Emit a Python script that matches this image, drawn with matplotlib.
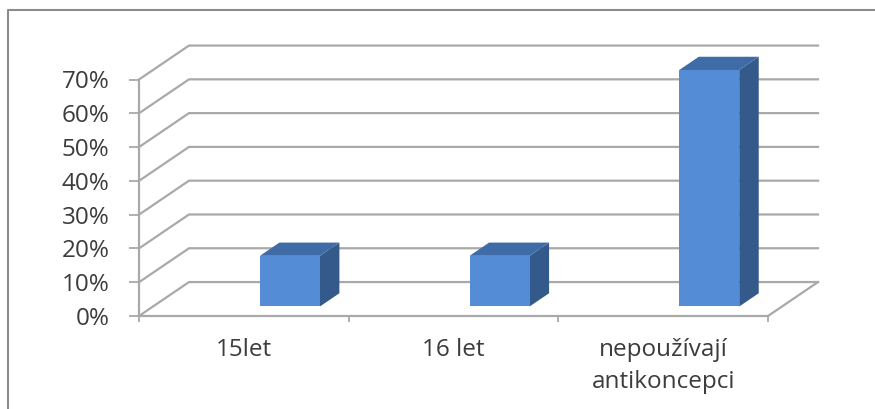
import matplotlib.pyplot as plt
from matplotlib.lines import Line2D
from matplotlib.patches import Polygon

plt.rcParams["font.family"] = ["Open Sans", "DejaVu Sans"]

# --------------------------------------------------------------
# Data
# --------------------------------------------------------------
categories = ["15let", "16 let", "nepoužívají\nantikoncepci"]
values = [15, 15, 70]
y_ticks = [0, 10, 20, 30, 40, 50, 60, 70]

# --------------------------------------------------------------
# Fake 3D settings, depth 1 = back wall
# --------------------------------------------------------------
W, H = 875, 409
depth_x = 0.2385   # category units per unit of depth
depth_y = 10.05    # percent per unit of depth
bar_width = 0.286
bar_shift = 0.153
bar_front = 0.28
bar_back = 0.67
grid_col = "#a9a9a9"
text_col = "#3c3c3c"


def pt(x, y, d=0.0):
    return (x + d * depth_x, y + d * depth_y)


fig = plt.figure(figsize=(W / 100, H / 100), dpi=100, facecolor="white")
ax = fig.add_axes([139 / W, (H - 316) / H, 629 / W, 236.5 / H])
ax.set_xlim(0, 3)
ax.set_ylim(0, 70)
ax.patch.set_visible(False)

# --------------------------------------------------------------
# Outer frame
# --------------------------------------------------------------
fig.add_artist(Line2D([8 / W, 8 / W, 1], [0, 1 - 10 / H, 1 - 10 / H],
                      color="#8c8c8c", lw=1.5, transform=fig.transFigure))

# --------------------------------------------------------------
# Walls and grid
# --------------------------------------------------------------
for t in y_ticks:
    xs, ys = zip(pt(0, t), pt(0, t, 1), pt(3, t, 1))
    ax.plot(xs, ys, color=grid_col, lw=1.6, clip_on=False, zorder=1)

# floor edge on the right
xs, ys = zip(pt(3, 0), pt(3, 0, 1))
ax.plot(xs, ys, color=grid_col, lw=1.6, clip_on=False, zorder=1)

# --------------------------------------------------------------
# Bars
# --------------------------------------------------------------
for i, v in enumerate(values):
    x0 = i + 0.5 + bar_shift - bar_width / 2
    x1 = x0 + bar_width
    front = [pt(x0, 0, bar_front), pt(x1, 0, bar_front), pt(x1, v, bar_front), pt(x0, v, bar_front)]
    side = [pt(x1, 0, bar_front), pt(x1, 0, bar_back), pt(x1, v, bar_back), pt(x1, v, bar_front)]
    top = [pt(x0, v, bar_front), pt(x1, v, bar_front), pt(x1, v, bar_back), pt(x0, v, bar_back)]
    ax.add_patch(Polygon(side, facecolor="#335a8a", edgecolor="none", clip_on=False, zorder=3))
    ax.add_patch(Polygon(top, facecolor="#3f6ca6", edgecolor="none", clip_on=False, zorder=3))
    ax.add_patch(Polygon(front, facecolor="#558cd6", edgecolor="none", clip_on=False, zorder=4))

# --------------------------------------------------------------
# Axes
# --------------------------------------------------------------
for name in ["top", "right"]:
    ax.spines[name].set_visible(False)
for name in ["left", "bottom"]:
    ax.spines[name].set_color(grid_col)
    ax.spines[name].set_linewidth(1.6)

ax.set_yticks(y_ticks)
ax.set_yticklabels([f"{t}%" for t in y_ticks], fontsize=17.5, color=text_col)
ax.tick_params(axis="y", length=7.2, width=1.3, color=grid_col, pad=14)

ax.set_xticks([0, 1, 2, 3])
ax.set_xticklabels([])
ax.tick_params(axis="x", which="major", length=4.5, width=1.3, color=grid_col)
ax.set_xticks([0.5, 1.5, 2.5], minor=True)
ax.set_xticklabels(categories, minor=True, fontsize=17.5, color=text_col, linespacing=1.45)
ax.tick_params(axis="x", which="minor", length=0, pad=16)

fig.savefig("out.png", dpi=100, facecolor="white")
